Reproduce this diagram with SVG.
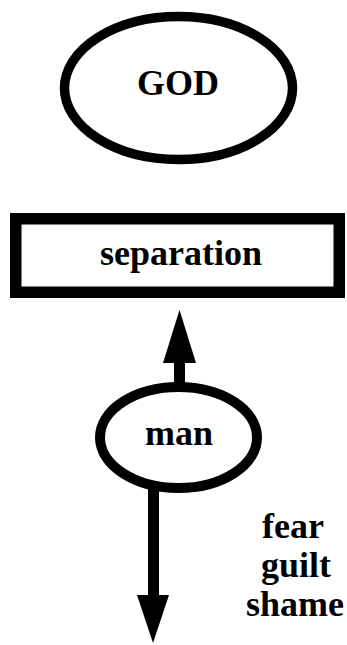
<svg xmlns="http://www.w3.org/2000/svg" width="347" height="645" viewBox="0 0 347 645">
<style>
.shape{fill:#fff;stroke:#000}
.lbl{font-family:"Liberation Serif","Times New Roman",serif;font-weight:bold;font-size:36px;fill:#000;text-anchor:middle}
.conn{stroke:#000;stroke-width:11;fill:none}
.head{fill:#000;stroke:none}
</style>
<rect width="347" height="645" fill="#fff"/>
<g id="connectors">
<line class="conn" x1="179.5" y1="362" x2="179.5" y2="386"/>
<polygon class="head" points="179.5,310 163,363 196,363"/>
<line class="conn" x1="153.5" y1="488" x2="153.5" y2="597"/>
<polygon class="head" points="153,643 137,595 169,595"/>
</g>
<g id="god">
<ellipse class="shape" cx="178.5" cy="88" rx="114" ry="71.5" stroke-width="9.5"/>
<text class="lbl" x="178" y="95">GOD</text>
</g>
<g id="separation">
<rect class="shape" x="15.75" y="218.75" width="323.5" height="73.5" stroke-width="11.5"/>
<text class="lbl" x="181" y="265">separation</text>
</g>
<g id="man">
<ellipse class="shape" cx="178.5" cy="437.5" rx="78.5" ry="50.5" stroke-width="10"/>
<text class="lbl" x="179" y="445">man</text>
</g>
<g id="effects">
<text class="lbl" x="293" y="538">fear</text>
<text class="lbl" x="296" y="577">guilt</text>
<text class="lbl" x="295" y="616">shame</text>
</g>
</svg>
